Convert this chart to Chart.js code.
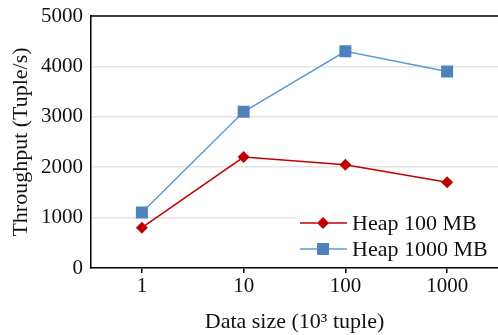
<!DOCTYPE html>
<html>
<head>
<meta charset="utf-8">
<script src="https://cdn.jsdelivr.net/npm/chart.js@4"></script>
<style>
  html, body { margin: 0; padding: 0; background: #fff; }
  #wrap { width: 498px; height: 335px; }
</style>
</head>
<body>
<div id="wrap"><canvas id="myChart"></canvas></div>
<script>
const categories = ['1', '10', '100', '1000'];
const heap100 = [800, 2200, 2050, 1700];
const heap1000 = [1100, 3100, 4300, 3900];
const yTicks = [0, 1000, 2000, 3000, 4000, 5000];

const serif = "'Liberation Serif', 'Times New Roman', serif";

// legend drawn inside the plot, bottom right
const insideLegend = {
    id: 'insideLegend',
    afterDraw(chart) {
        const c = chart.ctx;
        const area = chart.chartArea;
        c.save();
        // top border line
        c.strokeStyle = '#000';
        c.lineWidth = 1.5;
        c.beginPath();
        c.moveTo(area.left, area.top);
        c.lineTo(chart.width, area.top);
        c.stroke();

        const x0 = 296, y0 = 206;
        c.fillStyle = '#fff';
        c.fillRect(x0, y0, chart.width - x0, 56);
        chart.data.datasets.forEach((ds, i) => {
            const y = 223 + i * 26;
            c.strokeStyle = ds.borderColor;
            c.lineWidth = ds.borderWidth;
            c.beginPath();
            c.moveTo(300, y);
            c.lineTo(347, y);
            c.stroke();
            Chart.helpers.drawPoint(c, {
                pointStyle: ds.pointStyle,
                radius: ds.pointRadius,
                borderWidth: 0
            }, 323, y);
            c.fillStyle = ds.pointBackgroundColor;
            c.fill();
            c.fillStyle = '#111';
            c.font = '22px ' + serif;
            c.textBaseline = 'middle';
            c.fillText(ds.label, 352, y + 1);
        });
        c.restore();
    }
};

new Chart(document.getElementById('myChart'), {
    type: 'line',
    data: {
        labels: categories,
        datasets: [{
            label: 'Heap 100 MB',
            data: heap100,
            borderColor: '#c00000',
            borderWidth: 1.5,
            pointStyle: 'rectRot',
            pointRadius: 6,
            pointHoverRadius: 6,
            pointBackgroundColor: '#c00000',
            pointBorderWidth: 0
        }, {
            label: 'Heap 1000 MB',
            data: heap1000,
            borderColor: '#5b9bd5',
            borderWidth: 1.5,
            pointStyle: 'rect',
            pointRadius: 8.5,
            pointHoverRadius: 8.5,
            pointBackgroundColor: '#4f81bd',
            pointBorderWidth: 0
        }]
    },
    options: {
        responsive: true,
        maintainAspectRatio: false,
        animation: false,
        layout: { autoPadding: false, padding: { top: 16, left: 0, right: 0, bottom: 0 } },
        plugins: { legend: { display: false }, tooltip: { enabled: false } },
        scales: {
            x: {
                offset: true,
                afterFit: s => { s.height = 67; s.paddingLeft = 0; s.paddingRight = 0; },
                grid: { drawOnChartArea: false, drawTicks: true, tickLength: 5, color: '#000', lineWidth: 1.5 },
                border: { color: '#000', width: 1.5 },
                ticks: { color: '#111', font: { family: serif, size: 21 }, padding: 1 },
                title: {
                    display: true,
                    text: 'Data size (10³ tuple)',
                    color: '#111',
                    font: { family: serif, size: 22 },
                    padding: { top: 2, bottom: 0 }
                }
            },
            y: {
                min: 0,
                max: 5000,
                afterFit: s => { s.width = 91; s.paddingTop = 0; s.paddingBottom = 0; },
                afterBuildTicks: s => { s.ticks = yTicks.map(v => ({ value: v })); },
                grid: { color: '#e3e3e3', lineWidth: 1.5, drawTicks: false },
                border: { color: '#000', width: 1.5 },
                ticks: { color: '#111', font: { family: serif, size: 21 }, padding: 8, callback: v => String(v) },
                title: {
                    display: true,
                    text: 'Throughput (Tuple/s)',
                    color: '#111',
                    font: { family: serif, size: 22 },
                    padding: { top: 8, bottom: 0 }
                }
            }
        }
    },
    plugins: [insideLegend]
});
</script>
</body>
</html>
